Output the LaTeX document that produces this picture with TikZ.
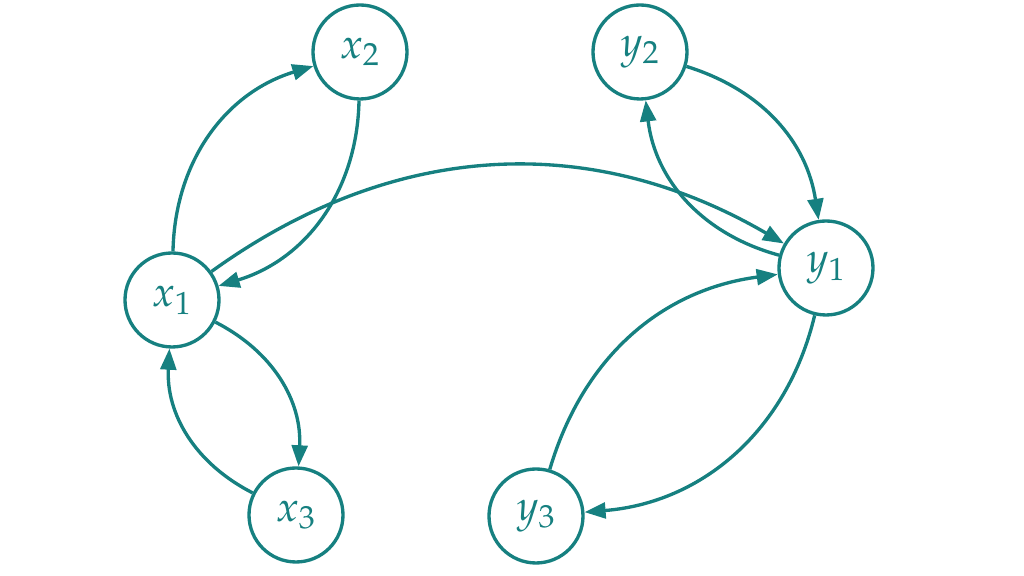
\documentclass[tikz,border=0pt]{standalone}
\usepackage{amsmath}
\usepackage{mathpazo}
\usepackage{xcolor}
\usepackage{tikz}
\usetikzlibrary{arrows.meta, positioning}
\definecolor{graphteal}{RGB}{22,128,128}

\begin{document}
\begin{tikzpicture}[
    vertex/.style={circle, draw=graphteal, line width=1.9pt, minimum size=1.88cm, inner sep=0pt,
        text=graphteal, font=\fontsize{24}{28}\selectfont},
    link/.style={draw=graphteal, line width=1.9pt, -{Triangle[length=12pt, width=9pt]}}
]
    \useasboundingbox (0, 0) rectangle (20.48, 11.52);

    \node[vertex] (x1) at (3.44, 5.52) {$x_1$};
    \node[vertex] (x2) at (7.2, 10.48) {$x_2$};
    \node[vertex] (x3) at (5.92, 1.22) {$x_3$};
    \node[vertex] (y1) at (16.52, 6.16) {$y_1$};
    \node[vertex] (y2) at (12.8, 10.48) {$y_2$};
    \node[vertex] (y3) at (10.72, 1.2) {$y_3$};

    \draw[link] (x1) to[bend left=36] (x2);
    \draw[link] (x2) to[bend left=36] (x1);
    \draw[link] (x1) to[bend left=33] (x3);
    \draw[link] (x3) to[bend left=33] (x1);
    \draw[link] (x1) to[bend left=33] (y1);
    \draw[link] (y2) to[bend left=32] (y1);
    \draw[link] (y1) to[bend left=34] (y2);
    \draw[link] (y3) to[bend left=33] (y1);
    \draw[link] (y1) to[bend left=36] (y3);
\end{tikzpicture}
\end{document}
